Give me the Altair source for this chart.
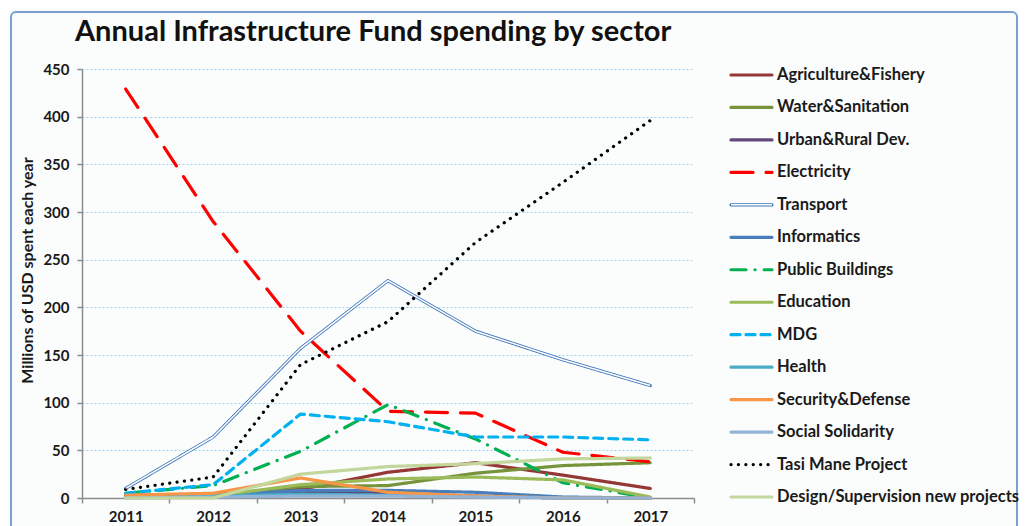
import altair as alt
import pandas as pd

years = ["2011", "2012", "2013", "2014", "2015", "2016", "2017"]
series = [
    "Agriculture&Fishery", "Water&Sanitation", "Urban&Rural Dev.", "Electricity",
    "Transport", "Informatics", "Public Buildings", "Education", "MDG", "Health",
    "Security&Defense", "Social Solidarity", "Tasi Mane Project",
    "Design/Supervision new projects",
]
agriculture = [3, 4, 9, 27, 37, 24, 10]
water = [1, 2, 12, 13, 26, 34, 37]
urban = [1, 2, 6, 5, 2, 0, 0]
electricity = [429, 290, 175, 91, 89, 48, 38]
transport = [10, 64, 157, 228, 175, 145, 118]
informatics = [1, 3, 8, 8, 6, 1, 0]
public_buildings = [5, 13, 49, 98, 62, 16, 0]
education = [1, 2, 14, 20, 22, 19, 1]
mdg = [5, 14, 88, 80, 64, 64, 61]
health = [1, 2, 4, 3, 2, 0, 0]
security = [3, 5, 21, 6, 2, 0, 0]
social = [0, 1, 2, 2, 1, 0, 0]
tasi_mane = [9, 22, 140, 185, 268, 331, 396]
design = [0, 0, 25, 33, 36, 41, 42]

values = [agriculture, water, urban, electricity, transport, informatics,
          public_buildings, education, mdg, health, security, social, tasi_mane, design]

colors = ["#953735", "#77933c", "#604a7b", "#ff0000", "#3f74b8", "#4a7ebb",
          "#00b050", "#9bbb59", "#00b0f0", "#4bacc6", "#f79646", "#95b3d7",
          "#000000", "#c3d69b"]
dashes = [[1, 0], [1, 0], [1, 0], [22, 13], [1, 0], [1, 0], [15, 9, 0.1, 9],
          [1, 0], [9, 6], [1, 0], [1, 0], [1, 0], [0.1, 7.3], [1, 0]]
widths = [3.2, 3.2, 3.2, 3.5, 5, 3.2, 3.5, 3.2, 3.5, 3.2, 3.2, 3.2, 4, 3.2]

rows = []
for s, vals in zip(series, values):
    for y, v in zip(years, vals):
        rows.append({"series": s, "year": y, "value": v})
df = pd.DataFrame(rows)
legend_df = pd.DataFrame({"series": series})

FONT = "Lato"
TXT = "#1a1a1a"

color_enc = alt.Color("series:N", scale=alt.Scale(domain=series, range=colors), legend=None)
dash_enc = alt.StrokeDash("series:N", scale=alt.Scale(domain=series, range=dashes), legend=None)
width_enc = alt.StrokeWidth("series:N", scale=alt.Scale(domain=series, range=widths), legend=None)

x_enc = alt.X(
    "year:N",
    bandPosition=0.5,
    scale=alt.Scale(type="band", paddingInner=0, paddingOuter=0),
    axis=alt.Axis(title=None, tickBand="extent", labelAngle=0, labelPadding=6,
                  labelFontSize=15, labelFontWeight="bold", labelFont=FONT,
                  labelColor=TXT),
)
y_enc = alt.Y(
    "value:Q",
    scale=alt.Scale(domain=[0, 450], nice=False),
    axis=alt.Axis(values=list(range(0, 451, 50)), title="Millions of USD spent each year",
                  grid=True, gridDash=[2, 2], gridColor="#9fd3f2", gridWidth=1.2,
                  labelFontSize=15, labelFontWeight="bold", labelFont=FONT,
                  labelColor=TXT, labelPadding=8,
                  titleFont=FONT, titleFontSize=16, titleFontWeight="bold",
                  titleColor=TXT, titleX=-55, titleY=201, titleBaseline="middle",
                  titleAlign="center", titleAngle=270),
)

lines = alt.Chart(df).mark_line(strokeCap="round", strokeJoin="round").encode(
    x=x_enc, y=y_enc, color=color_enc, strokeDash=dash_enc, strokeWidth=width_enc,
)

transport_core = alt.Chart(df).transform_filter(
    alt.datum.series == "Transport"
).mark_line(color="#ffffff", strokeWidth=1.5, strokeJoin="round").encode(
    x=x_enc, y=y_enc
)

plot = alt.layer(lines, transport_core)

leg_y = alt.Y("series:N", sort=series,
              scale=alt.Scale(domain=series, range=[6, 428], type="point", padding=0),
              axis=None)

legend_lines = alt.Chart(legend_df).mark_rule(strokeCap="round").encode(
    x=alt.value(649), x2=alt.value(690), y=leg_y,
    color=color_enc, strokeDash=dash_enc, strokeWidth=width_enc,
)
legend_core = alt.Chart(legend_df).transform_filter(
    alt.datum.series == "Transport"
).mark_rule(color="#ffffff", strokeWidth=1.5).encode(
    x=alt.value(649), x2=alt.value(690), y=leg_y,
)
legend_text = alt.Chart(legend_df).mark_text(
    align="left", baseline="middle", font=FONT, fontSize=16.5, fontWeight="bold",
    color=TXT,
).encode(x=alt.value(695), y=leg_y, text="series:N")

legend = alt.layer(legend_lines, legend_core, legend_text)

frame = alt.Chart(pd.DataFrame({"k": [0]})).mark_rect(
    fillOpacity=0, stroke="#7a9fd0", strokeWidth=2, cornerRadius=5
).encode(x=alt.value(-71), x2=alt.value(935), y=alt.value(-57), y2=alt.value(480))

chart = alt.layer(frame, plot, legend).resolve_scale(y="independent").properties(
    width=612,
    height=429,
    autosize=alt.AutoSizeParams(type="none"),
    padding={"left": 74, "top": 61, "right": 325, "bottom": 30},
    background="#fbfdfd",
    title=alt.TitleParams(
        "Annual Infrastructure Fund spending by sector",
        font=FONT, fontSize=29, fontWeight="bold", color="#111111",
        anchor="start", frame="group", dx=-7, offset=-36,
    ),
).configure_view(stroke=None).configure_axis(
    domainColor="#8c8c8c", domainWidth=1.5, tickColor="#8c8c8c", tickWidth=1.5, tickSize=5,
)

chart.save("out.html", embed_options={"renderer": "svg", "actions": False})
